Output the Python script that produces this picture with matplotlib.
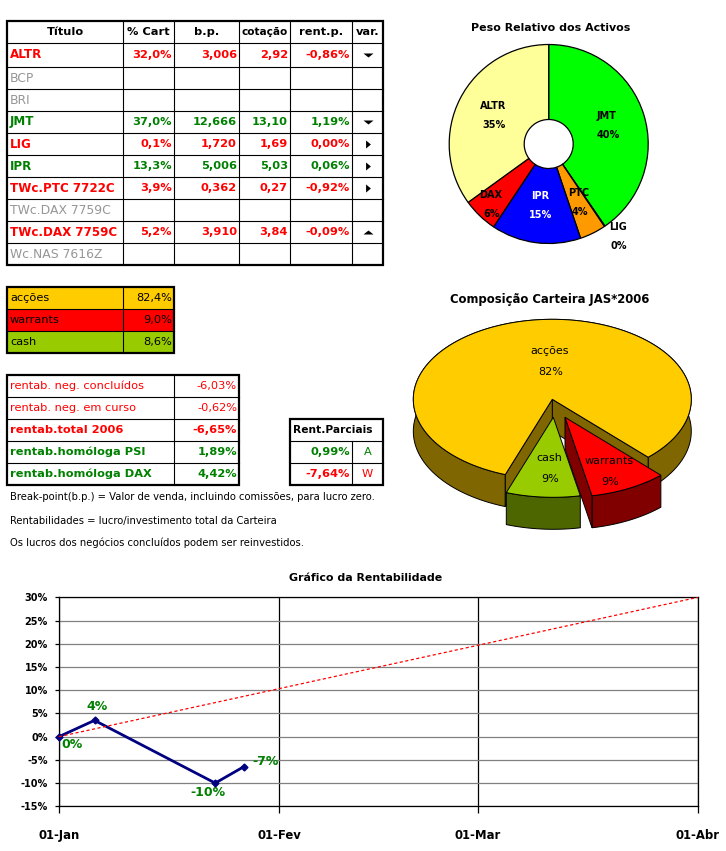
import numpy as np
import matplotlib
matplotlib.use('Agg')
import matplotlib.pyplot as plt

plt.rcParams['font.family'] = ['DejaVu Sans']

# main table
headers = ['Título', '% Cart', 'b.p.', 'cotação', 'rent.p.', 'var.']
titles = ['ALTR', 'BCP', 'BRI', 'JMT', 'LIG', 'IPR', 'TWc.PTC 7722C', 'TWc.DAX 7759C', 'TWc.DAX 7759C', 'Wc.NAS 7616Z']
pct_cart = ['32,0%', '', '', '37,0%', '0,1%', '13,3%', '3,9%', '', '5,2%', '']
break_point = ['3,006', '', '', '12,666', '1,720', '5,006', '0,362', '', '3,910', '']
cotacao = ['2,92', '', '', '13,10', '1,69', '5,03', '0,27', '', '3,84', '']
rent_p = ['-0,86%', '', '', '1,19%', '0,00%', '0,06%', '-0,92%', '', '-0,09%', '']
var_marks = ['v', '', '', 'v', '>', '>', '>', '', '^', '']
row_colors = ['red', 'gray', 'gray', 'green', 'red', 'green', 'red', 'gray', 'red', 'gray']

# asset mix table
mix_names = ['acções', 'warrants', 'cash']
mix_text = ['82,4%', '9,0%', '8,6%']
mix_values = [82.4, 9.0, 8.6]

# returns tables
rent_names = ['rentab. neg. concluídos', 'rentab. neg. em curso', 'rentab.total 2006', 'rentab.homóloga PSI', 'rentab.homóloga DAX']
rent_values = ['-6,03%', '-0,62%', '-6,65%', '1,89%', '4,42%']
rent_colors = ['red', 'red', 'red', 'green', 'green']
rent_bold = [False, False, True, True, True]
parc_values = ['0,99%', '-7,64%']
parc_names = ['A', 'W']
parc_colors = ['green', 'red']

notes = ['Break-point(b.p.) = Valor de venda, incluindo comissões, para lucro zero.',
         'Rentabilidades = lucro/investimento total da Carteira',
         'Os lucros dos negócios concluídos podem ser reinvestidos.']

# donut
donut_names = ['JMT', 'LIG', 'PTC', 'IPR', 'DAX', 'ALTR']
donut_values = [37.0, 0.1, 3.9, 13.3, 5.2, 32.0]

# line chart
line_days = [0, 5, 22, 26]
line_values = [0, 3.5, -10, -6.5]
line_labels = ['0%', '4%', '-10%', '-7%']
target_days = [0, 90]
target_values = [0, 30]
month_days = [0, 31, 59, 90]
month_labels = ['01-Jan', '01-Fev', '01-Mar', '01-Abr']
y_ticks = [-15, -10, -5, 0, 5, 10, 15, 20, 25, 30]

W, H = 726, 851
COL = {'red': '#ff0000', 'green': '#008000', 'gray': '#969696', 'black': 'black'}
FS = 8.2
# flat triangles of the var. column: (shape, size)
VAR_SHAPES = {'v': ([(-1, 0.4), (1, 0.4), (0, -0.4)], 7.2),
              '^': ([(-1, -0.4), (1, -0.4), (0, 0.4)], 7.2),
              '>': ([(-0.6, -1), (-0.6, 1), (0.6, 0)], 5.8)}

fig = plt.figure(figsize=(W / 100, H / 100), dpi=100, facecolor='white')
# whole page axes in pixels, kept on top so labels sit over the pies
page = fig.add_axes([0, 0, 1, 1])
page.set_xlim(0, W)
page.set_ylim(H, 0)
page.axis('off')
page.set_zorder(5)


def grid(xs, ys):
    for x in xs[1:-1]:
        page.plot([x, x], [ys[0], ys[-1]], color='black', lw=0.8, zorder=3)
    for y in ys[1:-1]:
        page.plot([xs[0], xs[-1]], [y, y], color='black', lw=0.8, zorder=3)
    page.add_patch(plt.Rectangle((xs[0], ys[0]), xs[-1] - xs[0], ys[-1] - ys[0], fill=False, ec='black', lw=1.6, zorder=4))


def cell(x, y, s, color='black', bold=True, ha='left', size=FS):
    page.text(x, y, s, color=COL[color], fontweight='bold' if bold else 'normal', ha=ha, va='center', fontsize=size, zorder=5)


# main table
xs = [7, 123, 174, 239, 290, 352, 383]
ys = [21, 43, 67, 89, 111, 133, 155, 177, 199, 221, 243, 265]
grid(xs, ys)
for i, h in enumerate(headers):
    cell((xs[i] + xs[i + 1]) / 2, 32, h, ha='center', size=FS if i != 3 else 7.6)
for r, t in enumerate(titles):
    y = (ys[r + 1] + ys[r + 2]) / 2
    c = row_colors[r]
    cell(xs[0] + 3, y, t, c, bold=c != 'gray', size=8.6 if c != 'gray' else 8.9)
    for k, col in enumerate([pct_cart, break_point, cotacao, rent_p]):
        cell(xs[k + 2] - 2, y, col[r], c, ha='right')
    if var_marks[r]:
        shape, ms = VAR_SHAPES[var_marks[r]]
        page.plot((xs[5] + xs[6]) / 2, y, marker=shape, color='black', ms=ms, mew=0, ls='none', zorder=5)

# asset mix table
xs = [7, 123, 174]
ys = [287, 309, 331, 353]
for i, c in enumerate(['#ffcc00', '#ff0000', '#99cc00']):
    page.add_patch(plt.Rectangle((xs[0], ys[i]), xs[2] - xs[0], 22, fc=c, ec='none', zorder=1))
    cell(xs[0] + 3, ys[i] + 11, mix_names[i], bold=False)
    cell(xs[2] - 2, ys[i] + 11, mix_text[i], bold=False, ha='right')
grid(xs, ys)

# returns table
xs = [7, 174, 239]
ys = [375, 397, 419, 441, 463, 485]
grid(xs, ys)
for i in range(5):
    y = (ys[i] + ys[i + 1]) / 2
    cell(xs[0] + 3, y, rent_names[i], rent_colors[i], rent_bold[i])
    cell(xs[2] - 2, y, rent_values[i], rent_colors[i], rent_bold[i], ha='right')

# partial returns table
xs = [290, 352, 383]
ys = [419, 441, 463, 485]
page.plot([352, 352], [441, 485], color='black', lw=0.8, zorder=3)
for y in ys[1:-1]:
    page.plot([290, 383], [y, y], color='black', lw=0.8, zorder=3)
page.add_patch(plt.Rectangle((290, 419), 93, 66, fill=False, ec='black', lw=1.6, zorder=4))
cell(293, 430, 'Rent.Parciais', size=FS - 0.5)
for i in range(2):
    y = (ys[i + 1] + ys[i + 2]) / 2
    cell(350, y, parc_values[i], parc_colors[i], ha='right')
    cell(367.5, y, parc_names[i], parc_colors[i], bold=False, ha='center')

# notes
for y, s in zip([497, 521, 543], notes):
    cell(10, y, s, bold=False, size=7.2)

# donut
cx, cy, rad = 548.7, 144, 99.5
ax_d = fig.add_axes([(cx - rad - 5) / W, 1 - (cy + rad + 5) / H, (2 * rad + 10) / W, (2 * rad + 10) / H])
ax_d.pie(donut_values, colors=['#00ff00', '#ffffff', '#ff9900', '#0000ff', '#ff0000', '#ffff99'], startangle=90,
         counterclock=False, radius=rad, frame=True, wedgeprops={'width': rad - 24.5, 'edgecolor': 'black', 'linewidth': 0.9})
ax_d.set_xlim(-rad - 5, rad + 5)
ax_d.set_ylim(-rad - 5, rad + 5)
ax_d.axis('off')
page.text(551, 28, 'Peso Relativo dos Activos', ha='center', va='center', fontsize=FS - 0.3, fontweight='bold')
total = sum(donut_values)
donut_pos = {'JMT': (607, 116, 'black'), 'LIG': (618, 227, 'black'), 'PTC': (579, 193, 'black'),
             'IPR': (540, 196, 'white'), 'DAX': (491, 195, 'black'), 'ALTR': (493, 106, 'black')}
for n, v in zip(donut_names, donut_values):
    x, y, c = donut_pos[n]
    page.text(x, y, n, color=c, ha='center', va='center', fontsize=7, fontweight='bold', zorder=6)
    page.text(x + 1, y + 19, f'{100 * v / total:.0f}%', color=c, ha='center', va='center', fontsize=7, fontweight='bold', zorder=6)

# exploded 3D pie
px, py, rx, ry, depth = 552.3, 399.3, 139, 80, 32
angles = np.cumsum([0] + [v / sum(mix_values) * 360 for v in mix_values])


def arc(a0, a1, ox=0, oy=0):
    t = np.radians(np.linspace(a0, a1, 120))
    return px + ox + rx * np.cos(t), py + oy - ry * np.sin(t)


def slice3d(a0, a1, top, side, ox=0, oy=0, faces=()):
    # faces: which cut faces can be seen, 0 = at a0, -1 = at a1
    x, y = arc(a0, a1, ox, oy)
    page.fill(np.r_[x, x[::-1]], np.r_[y, y[::-1] + depth], fc=side, ec='black', lw=0.7, zorder=2)
    for k in faces:
        page.fill([px + ox, x[k], x[k], px + ox], [py + oy, y[k], y[k] + depth, py + oy + depth], fc=side, ec='black', lw=0.7, zorder=2)
    page.fill(np.r_[px + ox, x], np.r_[py + oy, y], fc=top, ec='black', lw=0.7, zorder=2)


a_start = -46.4
a_mid = a_start - (angles[2] - angles[1])
a_end = a_start - (angles[3] - angles[1])
# main slice runs counter-clockwise from the right cut round to the left cut
slice3d(a_start, a_start + angles[1], '#ffcc00', '#806600', faces=(0, -1))
slice3d(a_end, a_mid, '#99cc00', '#4d6600', 1, 18)
slice3d(a_mid, a_start, '#ff0000', '#800000', 12.7, 18, faces=(0,))
page.text(550, 300, 'Composição Carteira JAS*2006', ha='center', va='center', fontsize=8.4, fontweight='bold')
pie_pos = [(550, 351), (609, 461), (549, 458)]
for (x, y), n, v in zip(pie_pos, mix_names, mix_values):
    page.text(x, y, n, ha='center', va='center', fontsize=8, zorder=6)
    page.text(x + 1, y + 21, f'{v:.0f}%', ha='center', va='center', fontsize=8, zorder=6)

# line chart
x0, x1, y0, y1 = 59, 698, 597.3, 806.3
ax = fig.add_axes([x0 / W, 1 - y1 / H, (x1 - x0) / W, (y1 - y0) / H])
ax.patch.set_alpha(0)
ax.set_xlim(month_days[0], month_days[-1])
ax.set_ylim(-15, 30)
ax.set_yticks(y_ticks)
ax.set_yticklabels([f'{v}%' for v in y_ticks], fontsize=7, fontweight='bold')
ax.set_xticks(month_days)
ax.set_xticklabels(month_labels, fontsize=8.4, fontweight='bold')
ax.tick_params(axis='x', length=5, width=0.9, pad=11)
ax.tick_params(axis='y', length=3, width=0.9, pad=5)
ax.yaxis.grid(True, color='#808080', lw=0.9)
ax.xaxis.grid(True, color='black', lw=0.9)
ax.set_axisbelow(True)
for s in ax.spines.values():
    s.set_linewidth(0.9)
ax.plot(line_days, line_values, color='#000080', lw=2, marker='D', ms=3.5, clip_on=False, zorder=4)
ax.plot(target_days, target_values, color='#ff0000', lw=0.9, ls=(0, (2.5, 2)), zorder=5)
offsets = [(9, -6), (1.5, 10), (-5, -7), (16, 4)]
for d, v, s, o in zip(line_days, line_values, line_labels, offsets):
    ax.annotate(s, (d, v), xytext=o, textcoords='offset points', color='green', ha='center', va='center',
                fontsize=9, fontweight='bold', annotation_clip=False)
page.text(366, 578, 'Gráfico da Rentabilidade', ha='center', va='center', fontsize=FS - 0.3, fontweight='bold')

fig.savefig('out.png', dpi=100)
